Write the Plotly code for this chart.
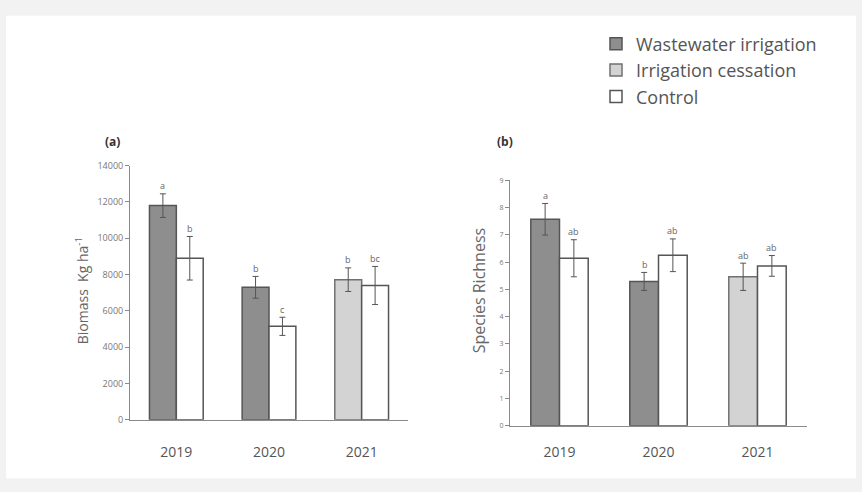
import plotly.graph_objects as go

# ---- data -------------------------------------------------------------
years = ["2019", "2020", "2021"]

# (a) above-ground biomass, kg ha-1
biomass_wastewater = [11800, 7300, None]
biomass_cessation = [None, None, 7720]
biomass_control = [8900, 5150, 7400]
biomass_wastewater_err = [650, 600, 0]
biomass_cessation_err = [0, 0, 650]
biomass_control_err = [1200, 500, 1050]
biomass_letters_trt = ["a", "b", "b"]
biomass_letters_ctl = ["b", "c", "bc"]

# (b) species richness
richness_wastewater = [7.57, 5.29, None]
richness_cessation = [None, None, 5.46]
richness_control = [6.14, 6.25, 5.86]
richness_wastewater_err = [0.58, 0.33, 0]
richness_cessation_err = [0, 0, 0.5]
richness_control_err = [0.68, 0.6, 0.38]
richness_letters_trt = ["a", "b", "ab"]
richness_letters_ctl = ["ab", "ab", "ab"]

biomass_ticks = [0, 2000, 4000, 6000, 8000, 10000, 12000, 14000]
biomass_ticktext = ["0", "2000", "4000", "6000", "8000", "10000", "12000", "14000"]
richness_ticks = list(range(0, 10))

# ---- styling ----------------------------------------------------------
W, H = 862, 492
FONT = "Open Sans"
DARK, DARK_LINE = "#8e8e8e", "#555555"
LIGHT, LIGHT_LINE = "#d3d3d3", "#707070"
CTRL, CTRL_LINE = "#ffffff", "#555555"
ERR = "#555555"


def px(x):
    return x / W


def py(y):
    return 1 - y / H


def err(vals):
    return dict(type="data", array=vals, color=ERR, thickness=1, width=3)


fig = go.Figure()

panels = [
    ("x", "y", biomass_wastewater, biomass_cessation, biomass_control,
     biomass_wastewater_err, biomass_cessation_err, biomass_control_err, True),
    ("x2", "y2", richness_wastewater, richness_cessation, richness_control,
     richness_wastewater_err, richness_cessation_err, richness_control_err, False),
]

for xa, ya, ww, ce, ct, ww_e, ce_e, ct_e, legend in panels:
    fig.add_trace(go.Bar(
        x=years, y=ww, name="Wastewater irrigation", offsetgroup="trt",
        marker=dict(color=DARK, line=dict(color=DARK_LINE, width=1.5)),
        error_y=err(ww_e), xaxis=xa, yaxis=ya, showlegend=legend,
        legendgroup="ww"))
    fig.add_trace(go.Bar(
        x=years, y=ce, name="Irrigation cessation", offsetgroup="trt",
        marker=dict(color=LIGHT, line=dict(color=LIGHT_LINE, width=1.5)),
        error_y=err(ce_e), xaxis=xa, yaxis=ya, showlegend=legend,
        legendgroup="ce"))
    fig.add_trace(go.Bar(
        x=years, y=ct, name="Control", offsetgroup="ctl",
        marker=dict(color=CTRL, line=dict(color=CTRL_LINE, width=1.5)),
        error_y=err(ct_e), xaxis=xa, yaxis=ya, showlegend=legend,
        legendgroup="ct"))

# significance letters above each bar
annotations = []


def letters(xref, yref, trt_vals, trt_errs, ctl_vals, ctl_errs, trt_lab, ctl_lab, shift):
    for i in range(len(years)):
        annotations.append(dict(
            x=i, y=trt_vals[i] + trt_errs[i], xref=xref, yref=yref, text=trt_lab[i],
            showarrow=False, xshift=-shift, yshift=8,
            font=dict(size=9, color="#666666", family=FONT)))
        annotations.append(dict(
            x=i, y=ctl_vals[i] + ctl_errs[i], xref=xref, yref=yref, text=ctl_lab[i],
            showarrow=False, xshift=shift, yshift=8,
            font=dict(size=9, color="#666666", family=FONT)))


bio_trt = [a if a is not None else b for a, b in zip(biomass_wastewater, biomass_cessation)]
bio_trt_e = [a if a else b for a, b in zip(biomass_wastewater_err, biomass_cessation_err)]
ric_trt = [a if a is not None else b for a, b in zip(richness_wastewater, richness_cessation)]
ric_trt_e = [a if a else b for a, b in zip(richness_wastewater_err, richness_cessation_err)]

letters("x", "y", bio_trt, bio_trt_e, biomass_control, biomass_control_err,
        biomass_letters_trt, biomass_letters_ctl, 13.5)
letters("x2", "y2", ric_trt, ric_trt_e, richness_control, richness_control_err,
        richness_letters_trt, richness_letters_ctl, 14)

# panel tags
annotations.append(dict(x=px(103), y=py(127), xref="paper", yref="paper", text="<b>(a)</b>",
                        showarrow=False, font=dict(size=12, color="#333333", family=FONT)))
annotations.append(dict(x=px(505), y=py(127), xref="paper", yref="paper", text="<b>(b)</b>",
                        showarrow=False, font=dict(size=12, color="#333333", family=FONT)))

# y-axis titles
annotations.append(dict(x=px(70), y=py(292), xref="paper", yref="paper",
                        text="Biomass  Kg ha<sup>-1</sup>", textangle=-90, showarrow=False,
                        font=dict(size=14, color="#666666", family=FONT)))
annotations.append(dict(x=px(479), y=py(292), xref="paper", yref="paper",
                        text="Species Richness", textangle=-90, showarrow=False,
                        font=dict(size=16, color="#666666", family=FONT)))

axis_common = dict(showline=True, linecolor="#8a8a8a", linewidth=1, showgrid=False,
                   zeroline=False)

fig.update_layout(
    width=W, height=H,
    margin=dict(l=0, r=0, t=0, b=0),
    paper_bgcolor="#f2f2f2",
    plot_bgcolor="rgba(0,0,0,0)",
    font=dict(family=FONT, color="#555555"),
    barmode="group", bargap=0.42, bargroupgap=0,
    xaxis=dict(domain=[px(130), px(408)], anchor="y", type="category",
               tickfont=dict(size=14, color="#555555"), ticks="", ticklabelstandoff=19,
               **axis_common),
    yaxis=dict(domain=[py(424), py(163)], anchor="x", range=[0, 14000],
               tickvals=biomass_ticks, ticktext=biomass_ticktext,
               ticks="outside", ticklen=4, tickcolor="#8a8a8a",
               tickfont=dict(size=9, color="#777777"), **axis_common),
    xaxis2=dict(domain=[px(510), px(807)], anchor="y2", type="category",
                tickfont=dict(size=14, color="#555555"), ticks="", ticklabelstandoff=14,
                **axis_common),
    yaxis2=dict(domain=[py(430), py(178)], anchor="x2", range=[0, 9],
                tickvals=richness_ticks, ticks="outside", ticklen=4, tickcolor="#8a8a8a",
                tickfont=dict(size=7, color="#777777"), **axis_common),
    legend=dict(x=px(596), y=py(19), xanchor="left", yanchor="top",
                bgcolor="rgba(0,0,0,0)", font=dict(size=18, color="#555555", family=FONT),
                tracegroupgap=0, itemwidth=30),
    annotations=annotations,
    shapes=[dict(type="rect", xref="paper", yref="paper", x0=px(6), x1=px(856),
                 y0=py(484), y1=py(9), fillcolor="#ffffff", line=dict(width=0),
                 layer="below")],
)

fig.write_html("out.html")
